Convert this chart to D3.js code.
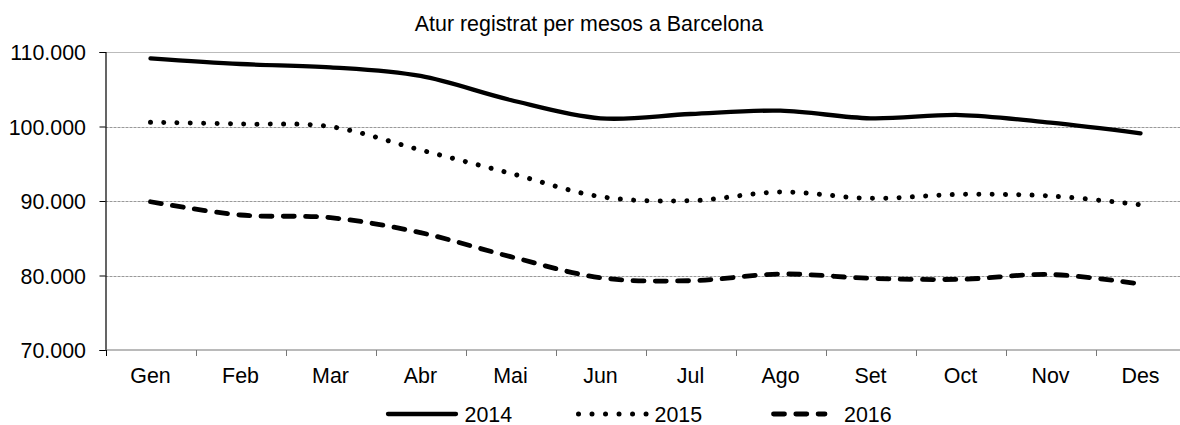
<!DOCTYPE html>
<html>
<head>
<meta charset="utf-8">
<script src="https://cdn.jsdelivr.net/npm/d3@7"></script>
<style>
  html, body { margin: 0; padding: 0; background: #fff; }
  svg { display: block; font-family: "Liberation Sans", Arial, sans-serif; }
</style>
</head>
<body>
<svg id="chart" width="1180" height="425"></svg>
<script>
// ---- data ----
const months = ["Gen","Feb","Mar","Abr","Mai","Jun","Jul","Ago","Set","Oct","Nov","Des"];
const values2014 = [109150,108390,107950,106780,103560,101100,101680,102120,101100,101540,100510,99090];
const values2015 = [100560,100335,99980,96850,93720,90580,90040,91210,90360,90890,90670,89500];
const values2016 = [89900,88120,87760,85750,82530,79700,79300,80200,79620,79490,80130,78860];
const seriesNames = ["2014","2015","2016"];
const yTicks = [70000,80000,90000,100000,110000];
const chartTitle = "Atur registrat per mesos a Barcelona";

(function () {
// ---- layout ----
const svg = d3.select("#chart");
const pLeft = 105.5, pRight = 1185.5, pTop = 52, pBottom = 350;
const fs = 21.4;

const x = d3.scaleBand().domain(months).range([pLeft, pRight]).padding(0);
const y = d3.scaleLinear().domain([70000, 110000]).range([pBottom, pTop]);
const fmt = v => d3.format(",")(v).replace(/,/g, ".");

// title
svg.append("text").attr("x", 589).attr("y", 30.5).attr("text-anchor", "middle")
  .style("font-size", "21.4px").attr("fill", "#000").text(chartTitle);

// gridlines
svg.append("g").selectAll("line").data(yTicks.filter(d => d > 70000)).join("line")
  .attr("x1", pLeft).attr("x2", pRight)
  .attr("y1", d => Math.round(y(d)) + 0.5).attr("y2", d => Math.round(y(d)) + 0.5)
  .attr("stroke", d => d === 110000 ? "#bbb" : "#999")
  .attr("stroke-width", 1)
  .attr("stroke-dasharray", d => d === 110000 ? null : "3,1");

// y axis
const yAxis = d3.axisLeft(y).tickValues(yTicks).tickFormat(fmt).tickSize(6).tickPadding(13.5);
const gy = svg.append("g").attr("transform", `translate(${pLeft},0)`).call(yAxis);
gy.select(".domain").attr("stroke", "#000").attr("stroke-width", 1.2);
gy.selectAll(".tick line").attr("stroke", "#000");
gy.selectAll(".tick text").style("font-size", fs + "px").attr("fill", "#000").attr("dy", "0.35em")
  .style("font-family", "'Liberation Sans', Arial, sans-serif");

// x axis (ticks at band boundaries)
const boundaries = months.map(m => x(m));
const gx = svg.append("g");
gx.append("line").attr("x1", pLeft).attr("x2", pRight).attr("y1", pBottom).attr("y2", pBottom)
  .attr("stroke", "#777").attr("stroke-width", 1.2);
gx.selectAll("line.tk").data(boundaries).join("line").attr("class", "tk")
  .attr("x1", d => Math.round(d) + 0.5).attr("x2", d => Math.round(d) + 0.5)
  .attr("y1", pBottom).attr("y2", pBottom + 6)
  .attr("stroke", d => d === pLeft ? "#000" : "#777");
gx.selectAll("text").data(months).join("text")
  .attr("x", d => x(d) + x.bandwidth() / 2).attr("y", 382.5)
  .attr("text-anchor", "middle").style("font-size", fs + "px").attr("fill", "#000")
  .text(d => d);

// lines
const series = [
  { name: seriesNames[0], values: values2014, dash: null, legendDash: null, width: 4.3 },
  { name: seriesNames[1], values: values2015, dash: "0.01,13.3", legendDash: "0.01,13.5", width: 5 },
  { name: seriesNames[2], values: values2016, dash: "11,11.3", legendDash: "11,11.3", width: 4.8 }
];
const line = d3.line()
  .x((d, i) => x(months[i]) + x.bandwidth() / 2)
  .y(d => y(d))
  .curve(d3.curveCardinal.tension(0));

svg.append("g").selectAll("path").data(series).join("path")
  .attr("d", d => line(d.values))
  .attr("fill", "none").attr("stroke", "#000")
  .attr("stroke-width", d => d.width)
  .attr("stroke-linecap", "round").attr("stroke-linejoin", "round")
  .attr("stroke-dasharray", d => d.dash);

// legend
const legendItems = [
  { s: series[0], x1: 388, x2: 456, tx: 464.5 },
  { s: series[1], x1: 578.5, x2: 646.5, tx: 654.5 },
  { s: series[2], x1: 773.5, x2: 825, tx: 844 }
];
const lg = svg.append("g");
legendItems.forEach(it => {
  lg.append("line").attr("x1", it.x1).attr("x2", it.x2).attr("y1", 414).attr("y2", 414)
    .attr("stroke", "#000").attr("stroke-width", it.s.width)
    .attr("stroke-linecap", "round")
    .attr("stroke-dasharray", it.s.legendDash);
  lg.append("text").attr("x", it.tx).attr("y", 421.5).style("font-size", fs + "px")
    .attr("fill", "#000").text(it.s.name);
});
})();
</script>
</body>
</html>
